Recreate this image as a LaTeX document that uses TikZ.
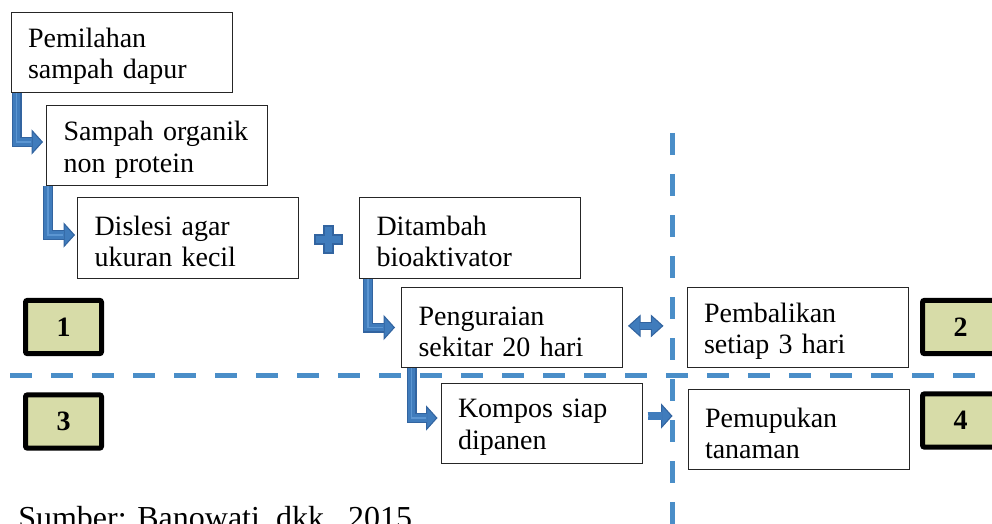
\documentclass[tikz,border=0pt]{standalone}
\usepackage{fontspec}
\setmainfont{Liberation Serif}
\usetikzlibrary{arrows.meta,calc}
\definecolor{dashblue}{RGB}{74,142,200}
\definecolor{arrdark}{RGB}{50,100,160}
\definecolor{arrmid}{RGB}{64,124,188}
\definecolor{arrlight}{RGB}{92,150,210}
\definecolor{numfill}{RGB}{215,220,168}
\tikzset{dtip/.tip={Triangle[length=9.5pt, width=17pt, fill=arrmid, line width=0.8pt]}}
\begin{document}
\begin{tikzpicture}[x=0.75pt,y=-0.75pt,
 box/.style={draw=black!85, line width=0.75pt, inner xsep=12.75pt, inner ysep=0pt, align=left,
   minimum height=60pt, text width=#1, font=\fontsize{21}{23.5}\selectfont},
 box/.default=140.25pt,
 numbox/.style={draw=black, line width=3.75pt, fill=numfill, rounded corners=1.5pt,
   minimum width=57pt, minimum height=40pt, inner sep=0pt, font=\fontsize{21}{24}\selectfont\bfseries},
 sepline/.style={dashblue, line width=3.75pt, dash pattern=on 16.5pt off 14.25pt},
 flow/.style={arrdark, line width=7.5pt, shorten >=#1,
   -{Triangle[length=8.5pt, width=18.75pt, fill=arrmid, line width=0.8pt]},
   postaction={draw=arrmid, line width=5.9pt, -, shorten >=#1+8.2pt},
   postaction={draw=arrlight, line width=1.4pt, -, shorten >=#1+9pt}},
]
\useasboundingbox (0,0) rectangle (992,524);

% dashed separators
\coordinate (hl) at (10,375);
\coordinate (hr) at (992,375);
\coordinate (vt) at (672,133);
\coordinate (vb) at (672,530);
\draw[sepline] (hl) -- (hr);
\draw[sepline] (vt) -- (vb);

% boxes
\node[box] (A) at (121.5,52.5) {\rule{0pt}{20pt}Pemilahan\\sampah dapur};
\node[box] (B) at (157,146) {\rule{0pt}{20pt}Sampah organik\\non protein};
\node[box] (C) at (188,238) {\rule{0pt}{20pt}Dislesi agar\\ukuran kecil};
\node[box] (D) at (470,238) {\rule{0pt}{20pt}Ditambah\\bioaktivator};
\node[box] (E) at (512,327.5) {\rule{0pt}{20pt}Penguraian\\sekitar 20 hari};
\node[box] (F) at (797.5,327.5) {\rule{0pt}{20pt}Pembalikan\\setiap 3 hari};
\node[box=125.25pt] (G) at (541.5,423) {\rule{0pt}{20pt}Kompos siap\\dipanen};
\node[box] (H) at (798.5,429.5) {\rule{0pt}{20pt}Pemupukan\\tanaman};

% number boxes
\node[numbox] (n1) at (63.5,327) {1};
\node[numbox] (n2) at (960.5,327) {2};
\node[numbox] (n3) at (63.5,421.5) {3};
\node[numbox] (n4) at (960.5,420.5) {4};

% elbow arrows
\draw[flow=2.25pt] ([xshift=4.5pt]A.south west) |- ([yshift=3pt]B.west);
\draw[flow=1.5pt] ([xshift=1.5pt]B.south west) |- ([yshift=2.25pt]C.west);
\draw[flow=4.5pt] ([xshift=6.75pt]D.south west) |- (E.west);
\draw[flow=2.25pt] ([xshift=7.9pt]E.south west) |- ([yshift=3.75pt]G.west);

% plus sign
\draw[arrdark, fill=arrmid, line width=0.9pt]
  (324,226) -- (333,226) -- (333,235) -- (342,235) -- (342,244) -- (333,244) -- (333,253)
  -- (324,253) -- (324,244) -- (315,244) -- (315,235) -- (324,235) -- cycle;

% double arrow
\draw[arrdark, line width=6pt, dtip-dtip, shorten <=3.75pt, shorten >=17.25pt,
  postaction={draw=arrmid, line width=4.4pt, -, shorten <=12.5pt, shorten >=26pt}]
  ([yshift=1.2pt]E.east) -- ([yshift=1.2pt]E.east -| F.west);

% right arrow
\draw[flow=11.25pt, shorten <=3.75pt, line width=6pt,
  postaction={draw=arrmid, line width=4.4pt, -, shorten <=4.5pt, shorten >=19.5pt}]
  ([yshift=5.25pt]G.east) -- ([yshift=5.25pt]G.east -| H.west);

% source
\node[anchor=base west, inner sep=0pt, font=\fontsize{24}{28}\selectfont] (src) at (18,528) {Sumber: Banowati, dkk., 2015};
\end{tikzpicture}
\end{document}
